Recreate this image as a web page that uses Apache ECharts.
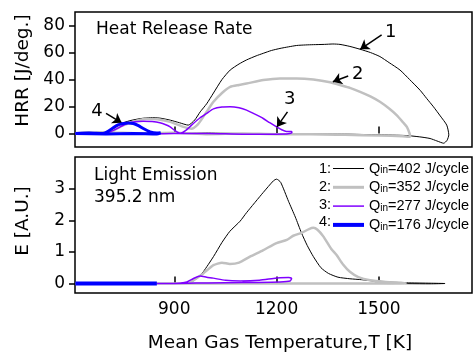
<!DOCTYPE html>
<html>
<head>
<meta charset="utf-8">
<script src="https://cdn.jsdelivr.net/npm/echarts@6/dist/echarts.min.js"></script>
<style>
html, body { margin: 0; padding: 0; background: #fff; }
#chart { width: 473px; height: 354px; }
</style>
</head>
<body>
<div id="chart"></div>
<script>
// [T (K), HRR (J/deg.)] in cycle order, so each curve is a loop
const hrr1 = [[610, 0.5], [640, -0.5], [670, 0.8], [700, 1], [720, 3], [741, 7], [770, 9.5], [800, 11], [830, 11.8], [858, 11.4], [888, 9.9], [915, 8], [941, 6.2], [960, 10], [976, 16], [995, 22], [1015, 30], [1040, 40], [1064, 47], [1090, 51.5], [1112, 54.5], [1140, 57.5], [1161, 59.4], [1185, 61.5], [1210, 63], [1235, 64.2], [1259, 65.2], [1285, 65.6], [1308, 65.8], [1340, 66], [1365, 66.3], [1386, 66], [1415, 64.5], [1445, 62.4], [1475, 60], [1503, 57], [1530, 52.5], [1562, 47], [1590, 40], [1621, 32], [1640, 26], [1660, 19.8], [1680, 13], [1699, 6.2], [1705, -1], [1700, -5], [1690, -7.2], [1670, -5.5], [1650, -3.7], [1620, -2.5], [1580, -1.5], [1500, -1], [1400, -0.5], [1300, -0.5], [1200, 0], [1100, 0], [1000, 0.3], [900, 0], [800, 0.5], [700, 0], [610, 0]];
const hrr2 = [[610, 0], [650, 1], [690, 0], [720, 2], [750, 6], [790, 9.5], [819, 11], [850, 10.5], [888, 8.6], [927, 4.9], [951, 3.5], [970, 7], [985, 12.3], [1000, 18], [1015, 23.5], [1040, 30], [1064, 34.6], [1090, 36], [1112, 37], [1161, 39.6], [1210, 40.8], [1259, 40.8], [1308, 40], [1357, 38], [1386, 35.9], [1415, 33.8], [1445, 30.9], [1475, 27.5], [1503, 23.5], [1530, 18.5], [1552, 13.6], [1570, 8.5], [1582, 4.9], [1590, 0], [1592, -2.5], [1570, -2], [1500, -1.5], [1400, -1], [1300, -0.5], [1200, -0.5], [1100, 0], [1000, -0.5], [900, 0.5], [800, 0], [700, 1], [610, 0]];
const hrr3 = [[610, 0], [660, 0.5], [700, 0], [712, 1.2], [735, 4], [761, 7.4], [785, 8.7], [809, 9.1], [835, 8.8], [858, 7.9], [875, 6.5], [888, 4.9], [900, 2.5], [917, 0.2], [935, 2.5], [956, 7.4], [975, 11.5], [995, 14.9], [1015, 18.2], [1040, 19.6], [1064, 19.8], [1090, 19], [1112, 17.3], [1135, 14.5], [1161, 11.1], [1180, 8], [1200, 4.9], [1215, 2.8], [1229, 1.5], [1244, 1.5], [1245, 0.5], [1230, -0.3], [1100, -0.5], [1000, 0], [900, 0], [800, -0.5], [700, 0], [610, 0]];
const hrr4 = [[610, 0], [650, 0.3], [690, 0], [702, 1], [722, 4.4], [737, 6.5], [751, 7.4], [765, 7.8], [780, 7.4], [795, 5.8], [809, 3.7], [829, 1.2], [849, 0.3], [860, 0.5], [849, -0.3], [780, 0], [700, -0.3], [610, 0]];

// [T (K), E (A.U.)] light emission at 395.2 nm
const emis1 = [[610, 0], [800, 0], [940, 0], [966, 0.16], [985, 0.37], [1015, 0.85], [1040, 1.3], [1063, 1.65], [1093, 1.97], [1112, 2.24], [1161, 2.88], [1191, 3.25], [1200, 3.3], [1212, 3.2], [1235, 2.6], [1255, 2.1], [1273, 1.6], [1290, 1.2], [1308, 0.85], [1330, 0.5], [1352, 0.32], [1380, 0.2], [1415, 0.15], [1450, 0.12], [1493, 0.07], [1540, 0.04], [1591, 0.02], [1650, 0.01], [1694, 0], [1650, -0.01], [1500, 0], [1300, 0], [1100, 0], [900, 0], [610, 0]];
const emis2 = [[610, 0], [800, 0], [940, 0], [956, 0.1], [985, 0.32], [1015, 0.58], [1040, 0.66], [1063, 0.62], [1090, 0.66], [1122, 0.85], [1160, 1.05], [1200, 1.28], [1230, 1.38], [1249, 1.51], [1273, 1.6], [1295, 1.72], [1308, 1.76], [1320, 1.7], [1337, 1.49], [1360, 1.1], [1376, 0.9], [1395, 0.6], [1415, 0.37], [1440, 0.2], [1474, 0.1], [1520, 0.05], [1580, 0.01], [1500, 0], [1300, 0], [1100, 0], [900, 0], [610, 0]];
const emis3 = [[849, 0], [900, 0], [937, 0.05], [955, 0.15], [976, 0.24], [995, 0.2], [1014, 0.17], [1050, 0.1], [1093, 0.08], [1150, 0.1], [1191, 0.16], [1210, 0.18], [1235, 0.19], [1244, 0.16], [1240, 0.08], [1210, 0.05], [1100, 0.03], [1000, 0.02], [900, 0], [849, 0]];
const emis4 = [[610, 0], [849, 0], [610, 0]];

const heatInputs = [402, 352, 277, 176];
const curveTags = ['1:', '2:', '3:', '4:'];
const tempTicks = [900, 1200, 1500];
const hrrTicks = [0, 20, 40, 60, 80];
const emisTicks = [0, 1, 2, 3];

// arrows pointing at the HRR curves: [label, [T, HRR] start, [T, HRR] tip]
const arrowMarks = [
  ['1', [1508, 73], [1445, 62.4]],
  ['2', [1410, 42.6], [1365, 38.3]],
  ['3', [1232, 16], [1201, 4.9]],
  ['4', [700, 14.9], [746, 7.9]]
];

const curveColors = ['#000000', '#c0c0c0', '#8000ff', '#0000ff'];
const curveWidths = [1, 2.5, 1.5, 3];
// legend line icons, drawn as thin bars kept at their aspect
const legendIcons = ['path://M0,0H31V1H0Z', 'path://M0,0H31V3H0Z', 'path://M0,0H62V3H0Z', 'path://M0,0H31V4H0Z'];
const names = heatInputs.map(q => 'Qin=' + q + ' J/cycle');
const font = 'DejaVu Sans';
const legendFont = 'Liberation Sans';

const chart = echarts.init(document.getElementById('chart'));

function xAxisFor(gridIndex, showLabels) {
  return {
    type: 'value',
    gridIndex,
    min: 609,
    max: 1773,
    name: showLabels ? 'Mean Gas Temperature,T [K]' : '',
    nameLocation: 'middle',
    nameGap: 41,
    nameTextStyle: { fontFamily: font, fontSize: 18.5, color: '#000', padding: [0, 0, 0, 13] },
    axisLine: { show: false },
    axisTick: { show: true, inside: true, length: 7, customValues: tempTicks, lineStyle: { color: '#000', width: 1.5 } },
    axisLabel: {
      show: showLabels,
      customValues: tempTicks,
      formatter: v => String(v),
      margin: 8,
      fontFamily: font,
      fontSize: 17,
      color: '#000'
    },
    splitLine: { show: false }
  };
}

function yAxisFor(gridIndex, min, max, ticks, name, shift) {
  return {
    type: 'value',
    gridIndex,
    min,
    max,
    name,
    nameLocation: 'middle',
    nameGap: 42,
    nameTextStyle: { fontFamily: font, fontSize: 18.5, color: '#000', padding: [0, 0, 0, shift] },
    axisLine: { show: false },
    axisTick: { show: true, inside: false, length: 6, customValues: ticks, lineStyle: { color: '#000', width: 1.5 } },
    axisLabel: { customValues: ticks, formatter: v => String(v), margin: 10, fontFamily: font, fontSize: 17, color: '#000' },
    splitLine: { show: false }
  };
}

function curve(i, data, gridIndex, width) {
  return {
    name: names[i],
    type: 'line',
    xAxisIndex: gridIndex,
    yAxisIndex: gridIndex,
    data,
    symbol: 'none',
    smooth: 0.2,
    lineStyle: { color: curveColors[i], width: width || curveWidths[i] },
    itemStyle: { color: curveColors[i] },
    z: 2 + i
  };
}

const topSeries = [curve(3, hrr4, 0), curve(1, hrr2, 0), curve(0, hrr1, 0), curve(2, hrr3, 0)];
topSeries[2].markLine = {
  silent: true,
  animation: false,
  symbol: ['none', 'arrow'],
  symbolSize: 9,
  lineStyle: { color: '#000', width: 1.5, type: 'solid' },
  label: { show: true, position: 'start', distance: 4, formatter: '{b}', fontFamily: font, fontSize: 18, color: '#000' },
  data: arrowMarks.map(a => [{ name: a[0], coord: a[1] }, { coord: a[2] }])
};

const bottomSeries = [curve(1, emis2, 1), curve(0, emis1, 1), curve(2, emis3, 1), curve(3, emis4, 1, 4)];

const textBlocks = [
  { text: 'Heat Release Rate', x: 96, y: 31 },
  { text: 'Light Emission', x: 94, y: 177.5 },
  { text: '395.2 nm', x: 94, y: 199.5 }
];

chart.setOption({
  animation: false,
  grid: [
    { left: 75, top: 12, width: 397, height: 135, show: true, borderColor: '#000', borderWidth: 1.5 },
    { left: 75, top: 157, width: 397, height: 136, show: true, borderColor: '#000', borderWidth: 1.5 }
  ],
  xAxis: [xAxisFor(0, false), xAxisFor(1, true)],
  yAxis: [
    yAxisFor(0, -10, 90, hrrTicks, 'HRR [J/deg.]', 18),
    yAxisFor(1, -0.3, 4, emisTicks, 'E [A.U.]', 8)
  ],
  legend: {
    data: names.map((n, i) => ({ name: n, icon: legendIcons[i], itemStyle: { color: curveColors[i], borderWidth: 0 } })),
    orient: 'vertical',
    left: 333,
    top: 161,
    padding: 0,
    itemWidth: 31,
    itemHeight: 14,
    itemGap: 3.8,
    selectedMode: false,
    formatter: n => '{q|Q}{s|in}{q|' + n.slice(3) + '}',
    textStyle: {
      rich: {
        q: { fontFamily: legendFont, fontSize: 14.5, color: '#000', lineHeight: 14 },
        s: { fontFamily: legendFont, fontSize: 10, color: '#000', lineHeight: 14, verticalAlign: 'bottom' }
      }
    }
  },
  graphic: textBlocks.map(t => ({
    type: 'text',
    left: t.x,
    top: t.y - 10,
    style: { text: t.text, fontFamily: font, fontSize: 17, fill: '#000', textVerticalAlign: 'top' }
  })).concat(curveTags.map((tag, i) => ({
    type: 'text',
    right: 473 - 331,
    top: 161.5 + i * 17.8,
    style: { text: tag, fontFamily: legendFont, fontSize: 14.5, fill: '#000' }
  }))),
  series: topSeries.concat(bottomSeries)
});
</script>
</body>
</html>
